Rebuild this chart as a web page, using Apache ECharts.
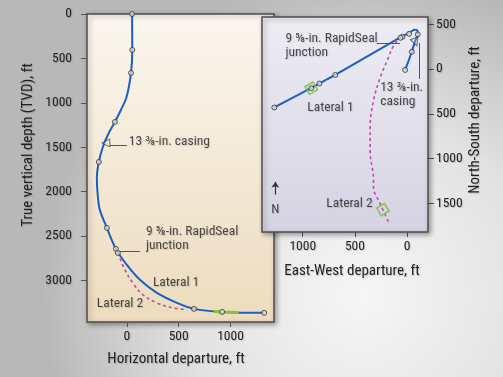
<!DOCTYPE html>
<html>
<head>
<meta charset="utf-8">
<script src="https://cdn.jsdelivr.net/npm/echarts@6/dist/echarts.min.js"></script>
<style>
  html, body { margin: 0; padding: 0; }
  #chart { width: 503px; height: 377px; }
</style>
</head>
<body>
<div id="chart"></div>
<script>
// vertical section: horizontal departure (ft) vs TVD (ft)
const secHoriz = [50, 52, 40, -3, -58, -116, -184, -232, -271, -290, -280, -261, -193, -106, 0, 126, 290, 484, 648, 919, 1325];
const secDepth = [0, 405, 664, 935, 1081, 1216, 1363, 1498, 1667, 1850, 2061, 2207, 2410, 2646, 2827, 2995, 3142, 3255, 3322, 3356, 3367];
const secLat2Horiz = [-87, -19, 58, 155, 290, 445, 580];
const secLat2Depth = [2692, 2883, 3029, 3164, 3255, 3311, 3328];
const secGreenHoriz = [840, 919, 1080];
const secGreenDepth = [3352, 3356, 3362];
const secMarkHoriz = [50, 52, 40, -116, -271, -193, -106, -87, 648, 919, 1325];
const secMarkDepth = [0, 405, 664, 1216, 1667, 2410, 2646, 2692, 3322, 3356, 3367];
const secCasing = [-203, 1453];
const secXTicks = [0, 500, 1000];
const secYTicks = [0, 500, 1000, 1500, 2000, 2500, 3000];

// plan view: east-west (west positive) vs north-south (south positive)
const planEW = [19, -45, -76, -102, -96, -67, -45, -12, 57, 688, 841, 1272];
const planNS = [11, -192, -311, -386, -433, -439, -422, -397, -359, 67, 163, 430];
const planLat2EW = [57, 131, 179, 258, 322, 354, 354, 322, 322, 258, 179];
const planLat2NS = [-359, -256, -126, 97, 356, 652, 911, 1244, 1319, 1503, 1708];
const planMarkEW = [19, -45, -102, -19, 45, 64, 688, 841, 918, 1272];
const planMarkNS = [11, -192, -386, -392, -359, -348, 67, 163, 215, 430];
const planCasing = [-80, -300];
const planGreenEW = [918, 232];
const planGreenNS = [215, 1570];
const planXTicks = [1000, 500, 0];
const planYTicks = [-500, 0, 500, 1000, 1500];

const pairs = (xs, ys) => xs.map((x, i) => [x, ys[i]]);

const font = "'Roboto Condensed', 'DejaVu Sans Condensed', sans-serif";
const txt = {
    fontFamily: font,
    fontSize: 13.5,
    fontWeight: "normal",
    color: "#222",
    textShadowColor: "rgba(0,0,0,0.18)",
    textShadowBlur: 1,
    textShadowOffsetX: 1,
    textShadowOffsetY: 1,
};
const nameTxt = { ...txt, fontSize: 15 };
const tick = { length: 5, lineStyle: { color: "#555", width: 1 } };
const plain = (v) => String(Math.abs(v));

function labelSeries(xi, items) {
    return {
        type: "scatter",
        xAxisIndex: xi,
        yAxisIndex: xi,
        symbolSize: 0,
        silent: true,
        z: 6,
        label: {
            show: true,
            position: "right",
            distance: 0,
            formatter: "{b}",
            lineHeight: 14,
            ...txt,
        },
        data: items.map((d) => ({ name: d[0], value: [d[1], d[2]] })),
    };
}

const chart = echarts.init(document.getElementById("chart"));

const option = {
    animation: false,
    graphic: [
        {
            type: "rect",
            z: -100,
            silent: true,
            shape: { x: 0, y: 0, width: 503, height: 377 },
            style: {
                fill: new echarts.graphic.RadialGradient(0.72, 0.78, 0.85, [
                    { offset: 0, color: "#f6f6f6" },
                    { offset: 0.55, color: "#e2e2e2" },
                    { offset: 1, color: "#b8b8b8" },
                ]),
            },
        },
    ],
    grid: [
        {
            left: 87, top: 14, width: 187, height: 308,
            show: true,
            borderColor: "#4e4e4e",
            borderWidth: 1.5,
            backgroundColor: new echarts.graphic.LinearGradient(0, 0, 0, 1, [
                { offset: 0, color: "#fbf6ef" },
                { offset: 1, color: "#eddcbd" },
            ]),
            shadowColor: "rgba(0,0,0,0.35)",
            shadowBlur: 5,
            shadowOffsetX: 2,
            shadowOffsetY: 2,
        },
        {
            left: 262, top: 17, width: 166, height: 215,
            show: true,
            z: 1,
            borderColor: "#4e4e4e",
            borderWidth: 1.5,
            backgroundColor: new echarts.graphic.LinearGradient(0, 0, 0, 1, [
                { offset: 0, color: "#eeedf3" },
                { offset: 1, color: "#d5d3e2" },
            ]),
            shadowColor: "rgba(0,0,0,0.35)",
            shadowBlur: 5,
            shadowOffsetX: 2,
            shadowOffsetY: 2,
        },
    ],
    xAxis: [
        {
            gridIndex: 0, type: "value", min: -385, max: 1420, position: "bottom",
            axisLine: { show: false, onZero: false },
            splitLine: { show: false },
            axisTick: { ...tick, customValues: secXTicks },
            axisLabel: { ...txt, margin: 8, customValues: secXTicks, formatter: plain },
            name: "Horizontal departure, ft",
            nameLocation: "middle",
            nameGap: 30,
            nameTextStyle: { ...nameTxt, padding: [0, 9, 0, 0] },
        },
        {
            gridIndex: 1, type: "value", min: -200, max: 1390, inverse: true, position: "bottom",
            axisLine: { show: false, onZero: false },
            splitLine: { show: false },
            axisTick: { ...tick, customValues: planXTicks },
            axisLabel: { ...txt, margin: 8, customValues: planXTicks, formatter: plain },
            name: "East-West departure, ft",
            nameLocation: "middle",
            nameGap: 32,
            nameTextStyle: { ...nameTxt, padding: [0, 0, 0, 14] },
        },
    ],
    yAxis: [
        {
            gridIndex: 0, type: "value", min: 0, max: 3470, inverse: true, position: "left",
            axisLine: { show: false, onZero: false },
            splitLine: { show: false },
            axisTick: { ...tick, length: 6, customValues: secYTicks },
            axisLabel: { ...txt, margin: 15, customValues: secYTicks, formatter: plain },
            name: "True vertical depth (TVD), ft",
            nameLocation: "middle",
            nameRotate: 90,
            nameGap: 51,
            nameTextStyle: { ...nameTxt, padding: [0, 0, 0, 46] },
        },
        {
            gridIndex: 1, type: "value", min: -580, max: 1820, inverse: true, position: "right",
            axisLine: { show: false, onZero: false },
            splitLine: { show: false },
            axisTick: { ...tick, length: 6, customValues: planYTicks },
            axisLabel: { ...txt, margin: 8, customValues: planYTicks, formatter: plain },
            name: "North-South departure, ft",
            nameLocation: "middle",
            nameRotate: 90,
            nameGap: 40,
            nameTextStyle: { ...nameTxt, padding: [0, 0, 0, 9] },
        },
    ],
    series: [
        // ---- vertical section ----
        {
            type: "line", xAxisIndex: 0, yAxisIndex: 0,
            data: pairs(secLat2Horiz, secLat2Depth),
            smooth: 0.4, showSymbol: false, z: 3,
            lineStyle: { color: "#b34fae", width: 1.6, type: [3, 3] },
        },
        {
            type: "line", xAxisIndex: 0, yAxisIndex: 0,
            data: pairs(secHoriz, secDepth),
            smooth: 0.35, showSymbol: false, z: 4,
            lineStyle: { color: "#1b5fc4", width: 2 },
        },
        {
            type: "line", xAxisIndex: 0, yAxisIndex: 0,
            data: pairs(secGreenHoriz, secGreenDepth),
            smooth: true, showSymbol: false, z: 5,
            lineStyle: { color: "#86c440", width: 3 },
        },
        {
            type: "scatter", xAxisIndex: 0, yAxisIndex: 0,
            data: pairs(secMarkHoriz, secMarkDepth),
            symbolSize: 5, z: 6, silent: true,
            itemStyle: { color: "#ddd8cc", borderColor: "#333", borderWidth: 1 },
        },
        {
            type: "scatter", xAxisIndex: 0, yAxisIndex: 0,
            data: [secCasing],
            symbol: "triangle", symbolRotate: 90, symbolSize: 8, z: 6, silent: true,
            itemStyle: { color: "rgba(255,255,255,0.3)", borderColor: "#444", borderWidth: 1 },
        },
        {
            type: "lines", coordinateSystem: "cartesian2d", xAxisIndex: 0, yAxisIndex: 0,
            silent: true, z: 5,
            lineStyle: { color: "#555", width: 1, opacity: 1 },
            data: [
                { coords: [[-164, 1475], [0, 1475]] },
                { coords: [[-77, 2669], [126, 2669]] },
            ],
        },
        labelSeries(0, [
            ["13 ⅜-in. casing", 19, 1441],
            ["9 ⅝-in. RapidSeal\njunction", 184, 2528],
            ["Lateral 1", 251, 3029],
            ["Lateral 2", -290, 3266],
        ]),
        // ---- plan view ----
        {
            type: "line", xAxisIndex: 1, yAxisIndex: 1,
            data: pairs(planLat2EW, planLat2NS),
            smooth: 0.4, showSymbol: false, z: 3,
            lineStyle: { color: "#b34fae", width: 1.6, type: [3, 3] },
        },
        {
            type: "line", xAxisIndex: 1, yAxisIndex: 1,
            data: pairs(planEW, planNS),
            smooth: 0.25, showSymbol: false, z: 4,
            lineStyle: { color: "#1b5fc4", width: 2 },
        },
        {
            type: "scatter", xAxisIndex: 1, yAxisIndex: 1,
            data: pairs(planMarkEW, planMarkNS),
            symbolSize: 5, z: 6, silent: true,
            itemStyle: { color: "#d8d6e0", borderColor: "#333", borderWidth: 1 },
        },
        {
            type: "scatter", xAxisIndex: 1, yAxisIndex: 1,
            data: [planCasing],
            symbol: "triangle", symbolRotate: 200, symbolSize: 8, z: 6, silent: true,
            itemStyle: { color: "rgba(255,255,255,0.3)", borderColor: "#444", borderWidth: 1 },
        },
        {
            type: "scatter", xAxisIndex: 1, yAxisIndex: 1,
            data: pairs(planGreenEW, planGreenNS),
            symbol: "rect", symbolRotate: 30, symbolSize: 9, z: 7, silent: true,
            itemStyle: { color: "rgba(0,0,0,0)", borderColor: "#7dc242", borderWidth: 1.8 },
        },
        {
            type: "lines", coordinateSystem: "cartesian2d", xAxisIndex: 1, yAxisIndex: 1,
            silent: true, z: 5,
            lineStyle: { color: "#555", width: 1, opacity: 1 },
            data: [
                { coords: [[290, -292], [67, -292]] },
                { coords: [[-115, -289], [-115, 111]] },
            ],
        },
        {
            type: "lines", coordinateSystem: "cartesian2d", xAxisIndex: 1, yAxisIndex: 1,
            silent: true, z: 5,
            symbol: ["none", "arrow"], symbolSize: 6,
            lineStyle: { color: "#333", width: 1.2, opacity: 1 },
            data: [{ coords: [[1262, 1400], [1262, 1260]] }],
        },
        labelSeries(1, [
            ["9 ⅝-in. RapidSeal\njunction", 1166, -261],
            ["13 ⅜-in.\ncasing", 258, 283],
            ["Lateral 1", 956, 433],
            ["Lateral 2", 774, 1500],
        ]),
        {
            type: "scatter", xAxisIndex: 1, yAxisIndex: 1,
            symbolSize: 0, silent: true, z: 6,
            label: { show: true, position: "inside", formatter: "{b}", ...txt, fontSize: 13 },
            data: [{ name: "N", value: [1262, 1567] }],
        },
    ],
};

chart.setOption(option);
</script>
</body>
</html>
